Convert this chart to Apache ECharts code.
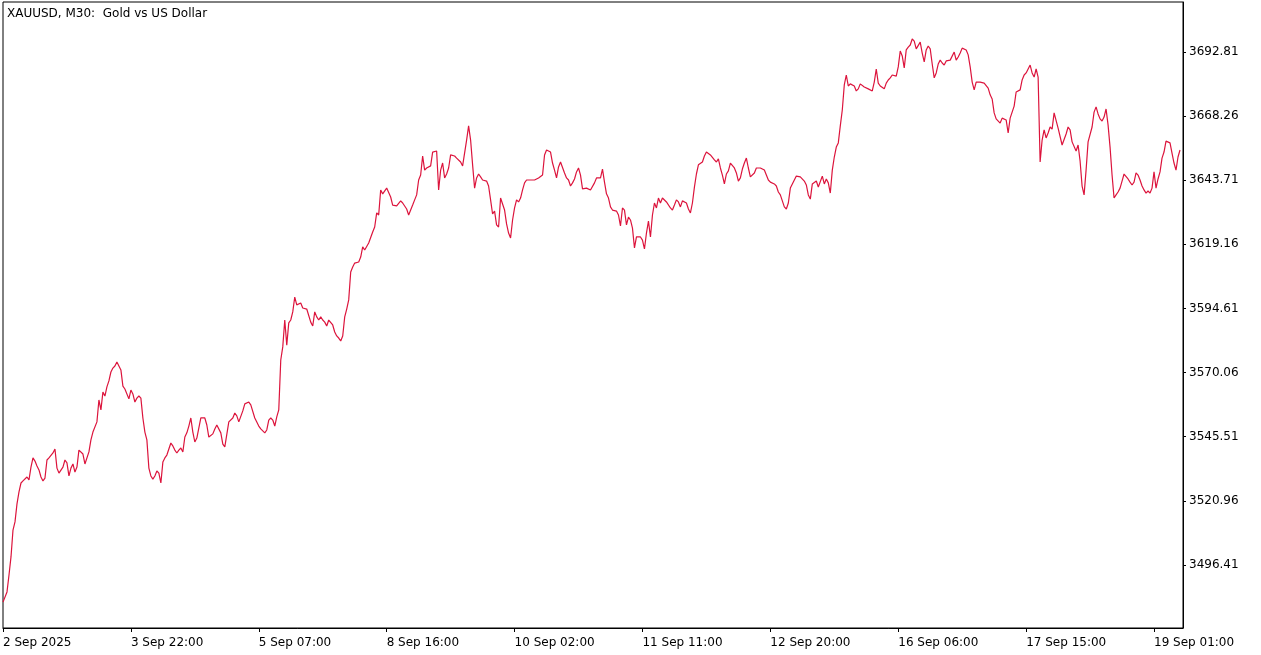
<!DOCTYPE html>
<html>
<head>
<meta charset="utf-8">
<script src="https://cdn.jsdelivr.net/npm/echarts@6/dist/echarts.min.js"></script>
<style>
html,body{margin:0;padding:0;background:#ffffff;}
#chart{width:1261px;height:655px;}
</style>
</head>
<body>
<div id="chart"></div>
<script>
// ---------- data ----------
const titleText = 'XAUUSD, M30:  Gold vs US Dollar';
const xLabels = ['2 Sep 2025', '3 Sep 22:00', '5 Sep 07:00', '8 Sep 16:00', '10 Sep 02:00',
                 '11 Sep 11:00', '12 Sep 20:00', '16 Sep 06:00', '17 Sep 15:00', '19 Sep 01:00'];
const yTicks = [3496.41, 3520.96, 3545.51, 3570.06, 3594.61, 3619.16, 3643.71, 3668.26, 3692.81];
const BARS_PER_LABEL = 64;

// M30 closes, one array per label span (64 bars each)
const pricesA = [3482.2,3482.6,3486.1,3492.6,3499.5,3509.8,3512.9,3519.8,3524.4,3527.8,
 3528.6,3529.3,3530.1,3529.0,3533.9,3537.4,3536.2,3534.3,3532.8,3530.1,
 3528.6,3529.7,3536.6,3537.4,3538.1,3539.3,3540.8,3533.5,3531.6,3531.3,
 3533.9,3536.6,3535.5,3530.5,3533.5,3535.1,3532.0,3533.9,3540.4,3540.4,
 3538.9,3535.1,3535.8,3539.7,3544.3,3547.3,3547.7,3551.2,3559.6,3555.8,
 3562.6,3561.1,3564.6,3566.9,3570.3,3571.8,3572.6,3574.1,3574.5,3571.1,
 3564.9,3563.8,3564.2,3560.0];
const pricesB = [3563.4,3561.9,3558.8,3560.3,3561.1,3560.3,
 3552.7,3547.3,3544.3,3533.5,3530.5,3529.3,3530.5,3532.4,3531.6,3527.8,
 3535.8,3537.4,3538.5,3540.8,3543.1,3542.0,3540.4,3539.3,3540.4,3541.2,
 3539.7,3545.4,3547.0,3549.6,3552.7,3547.3,3543.5,3545.0,3544.3,3552.7,
 3553.1,3552.7,3550.0,3545.4,3544.7,3546.6,3548.5,3550.0,3549.6,3547.0,
 3542.7,3541.6,3542.0,3551.2,3551.9,3552.7,3554.6,3553.5,3551.2,3551.9,
 3555.4,3558.1,3558.4,3558.8,3557.7,3557.7,3552.7,3552.7];
const pricesC = [3549.6,3548.5,
 3548.1,3547.0,3548.1,3551.9,3552.7,3551.9,3549.6,3553.1,3555.8,3574.9,
 3579.9,3590.2,3580.6,3589.1,3590.2,3593.3,3599.0,3596.0,3596.7,3596.7,
 3594.8,3595.2,3594.4,3594.0,3589.4,3587.9,3593.3,3591.4,3590.2,3591.4,
 3590.2,3589.4,3587.9,3590.2,3590.6,3588.3,3585.6,3584.1,3583.3,3582.2,
 3584.1,3591.4,3594.4,3597.9,3608.6,3610.5,3612.0,3611.7,3612.4,3614.3,
 3618.2,3617.0,3617.0,3619.7,3619.3,3623.9,3625.8,3631.2,3630.4,3640.0,
 3638.5,3638.8];
const pricesD = [3640.7,3640.0,3637.3,3634.2,3633.5,3633.9,3634.6,3635.8,
 3635.0,3635.4,3632.7,3630.4,3630.8,3634.2,3636.2,3638.1,3643.8,3645.7,
 3653.0,3647.6,3648.4,3648.8,3649.2,3654.5,3654.9,3654.9,3640.0,3647.6,
 3650.3,3644.6,3646.1,3648.4,3653.4,3653.8,3653.0,3652.2,3652.6,3650.7,
 3649.2,3649.9,3659.1,3664.5,3659.1,3649.6,3640.7,3644.6,3646.1,3645.0,
 3643.8,3643.4,3643.4,3641.5,3636.2,3630.8,3631.9,3626.6,3625.8,3636.9,
 3637.3,3632.3,3627.0,3623.5,3621.6,3628.5];
const pricesE = [3633.1,3636.2,3635.4,3636.9,
 3640.0,3642.7,3643.8,3643.4,3643.8,3643.8,3643.8,3644.2,3644.6,3645.3,
 3645.7,3653.4,3655.3,3654.9,3654.5,3650.3,3647.6,3644.6,3648.8,3650.7,
 3650.7,3646.5,3644.6,3643.8,3641.5,3642.7,3644.2,3646.9,3648.4,3645.7,
 3640.4,3641.1,3640.7,3640.0,3640.0,3640.4,3642.7,3644.6,3645.3,3644.6,
 3648.0,3643.0,3638.5,3636.9,3633.5,3632.3,3632.3,3631.9,3630.4,3626.2,
 3633.1,3632.3,3626.6,3629.6,3628.5,3625.4,3617.8,3622.0,3621.6,3622.0];
const pricesF = [3620.8,3617.4,3623.5,3628.1,3622.0,3630.4,3635.0,3633.1,3636.9,3635.0,
 3636.9,3636.5,3635.4,3635.0,3633.1,3632.3,3634.2,3636.2,3635.4,3633.5,
 3635.8,3636.2,3635.0,3632.7,3631.2,3635.0,3641.1,3646.1,3649.6,3649.2,
 3650.7,3653.0,3654.5,3654.5,3653.4,3653.0,3651.5,3650.7,3651.9,3648.4,
 3645.7,3642.3,3646.1,3647.3,3650.3,3650.7,3648.4,3646.5,3643.4,3644.6,
 3648.0,3650.3,3652.2,3648.4,3645.0,3644.6,3646.5,3648.4,3648.0,3648.4,
 3648.0,3647.6,3645.7,3643.8];
const pricesG = [3643.0,3643.0,3642.3,3641.5,3639.2,3638.1,
 3637.7,3633.5,3632.7,3635.0,3640.7,3642.3,3643.8,3645.3,3645.3,3645.0,
 3644.6,3643.4,3641.9,3638.1,3636.5,3642.3,3642.7,3643.4,3641.1,3641.5,
 3645.3,3642.3,3644.2,3642.7,3638.8,3647.6,3652.6,3656.4,3658.0,3664.5,
 3670.6,3680.2,3684.0,3679.8,3680.6,3681.3,3679.8,3677.9,3678.7,3680.6,
 3680.6,3679.4,3678.7,3678.7,3679.0,3677.9,3681.3,3686.3,3680.9,3679.8,
 3680.2,3678.7,3680.9,3682.1,3682.9,3684.0,3684.0,3683.6];
const pricesH = [3687.1,3693.2,
 3691.3,3686.7,3693.6,3694.7,3695.5,3697.8,3697.0,3694.0,3693.6,3696.6,
 3692.4,3689.0,3693.6,3695.1,3694.0,3688.2,3682.9,3684.8,3688.2,3689.7,
 3688.6,3687.8,3689.4,3689.4,3689.7,3689.0,3692.8,3689.7,3690.9,3692.4,
 3694.3,3694.3,3693.6,3691.7,3687.1,3681.3,3678.3,3681.3,3681.7,3681.3,
 3681.3,3680.9,3680.6,3679.0,3676.4,3674.8,3669.5,3667.2,3666.8,3665.6,
 3667.5,3667.9,3666.8,3661.8,3667.5,3666.8,3672.1,3677.5,3677.9,3678.3,
 3682.1,3684.0];
const pricesI = [3684.8,3684.8,3687.8,3684.8,3683.2,3686.3,3683.2,3650.7,
 3659.1,3663.0,3659.9,3661.8,3664.1,3663.3,3669.5,3669.8,3663.7,3664.1,
 3657.2,3657.2,3661.4,3664.1,3663.0,3658.4,3658.0,3654.9,3657.2,3651.1,
 3641.5,3638.1,3647.6,3658.4,3658.4,3664.1,3669.8,3671.8,3669.1,3667.2,
 3666.4,3667.9,3671.0,3664.9,3656.4,3645.7,3636.9,3638.1,3639.2,3640.7,
 3643.4,3646.1,3645.7,3644.2,3643.0,3641.9,3643.0,3646.5,3645.7,3643.8,
 3641.5,3640.0,3638.8,3639.6,3638.8,3640.7];
const pricesJ = [3646.9,3640.7,3644.2,3646.9,3652.2,3654.5,3658.7,3659.1,3658.0,3654.1,
 3650.3,3647.6,3652.6,3655.3];

const prices = [].concat(pricesA, pricesB, pricesC, pricesD, pricesE,
                         pricesF, pricesG, pricesH, pricesI, pricesJ);

// ---------- chart ----------
const xTickIdx = xLabels.map((_, k) => k * BARS_PER_LABEL);
const chart = echarts.init(document.getElementById('chart'), null, {renderer: 'canvas'});
const FONT = 'DejaVu Sans';

chart.setOption({
  animation: false,
  backgroundColor: '#ffffff',
  textStyle: {fontFamily: FONT, fontSize: 12, color: '#000'},
  title: {
    text: titleText,
    left: 7, top: 8, padding: 0,
    textStyle: {fontFamily: FONT, fontSize: 12, fontWeight: 'normal', color: '#000'}
  },
  grid: {
    left: 2, right: 78, top: 2, bottom: 27,
    show: true, borderColor: '#000', borderWidth: 1, backgroundColor: '#fff',
    containLabel: false
  },
  xAxis: {
    type: 'value',
    min: 0,
    max: 590.5,
    axisLine: {show: true, onZero: false, lineStyle: {color: '#000', width: 1}},
    axisTick: {show: true, inside: false, length: 4, lineStyle: {color: '#000'}, customValues: xTickIdx},
    axisLabel: {
      show: true, margin: 9, align: 'left', color: '#000',
      fontFamily: FONT, fontSize: 12,
      customValues: xTickIdx,
      formatter: v => xLabels[Math.round(v / BARS_PER_LABEL)] || ''
    },
    splitLine: {show: false}
  },
  yAxis: {
    type: 'value',
    position: 'right',
    min: 3472.29,
    max: 3711.95,
    axisLine: {show: true, onZero: false, lineStyle: {color: '#000', width: 1}},
    axisTick: {show: true, inside: false, length: 3, lineStyle: {color: '#000'}, customValues: yTicks},
    axisLabel: {
      show: true, margin: 6, color: '#000', fontFamily: FONT, fontSize: 12,
      customValues: yTicks,
      formatter: v => v.toFixed(2)
    },
    splitLine: {show: false}
  },
  series: [{
    type: 'line',
    data: prices.map((v, i) => [i, v]),
    showSymbol: false,
    symbol: 'none',
    lineStyle: {color: '#DC143C', width: 1.2},
    silent: true
  }]
});
</script>
</body>
</html>
